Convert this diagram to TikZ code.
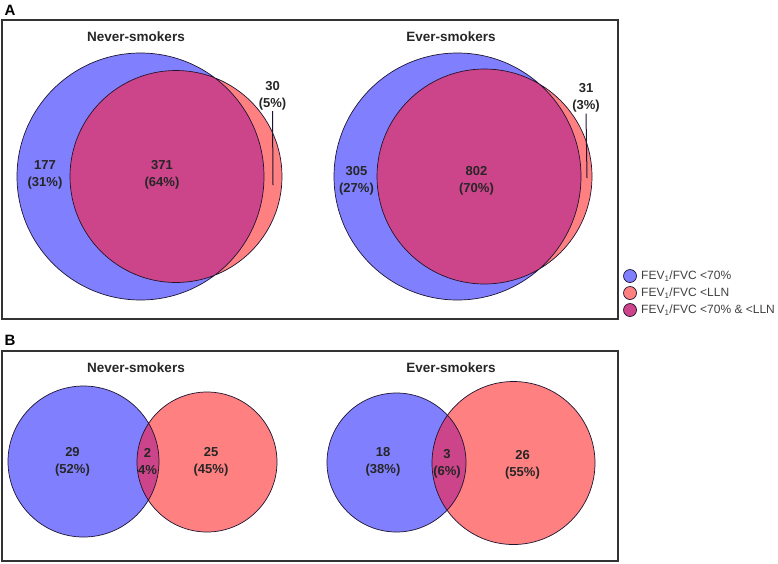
\documentclass[tikz,border=0pt]{standalone}
\usepackage{fontspec}
\setmainfont{Liberation Sans}
\definecolor{setblue}{RGB}{128,128,255}
\definecolor{setred}{RGB}{255,128,128}
\definecolor{setmag}{RGB}{204,68,138}
\definecolor{edgecol}{RGB}{30,20,50}

\begin{document}
\begin{tikzpicture}[x=1pt,y=-1pt,
    venn/.style={circle,inner sep=0pt},
    rim/.style={draw=edgecol,line width=0.7pt},
    count/.style={font=\fontsize{13}{17}\selectfont\bfseries,align=center,text=black!85,inner sep=1pt},
    title/.style={font=\fontsize{13.5}{16}\selectfont\bfseries,text=black!85},
    panel/.style={draw=black!80,line width=1.3pt},
    key/.style={circle,draw=edgecol,line width=0.7pt,inner sep=0pt,minimum size=13pt},
    keytext/.style={font=\fontsize{12}{14}\selectfont,anchor=west,text=black!75,inner sep=0pt}]
  \useasboundingbox (0,0) rectangle (778,563);
  % panel frames and letters
  \draw[panel] (2,20) rectangle (618,319);
  \draw[panel] (2,351) rectangle (618,561);
  \node[font=\fontsize{15}{15}\selectfont\bfseries] (letA) at (10,10) {A};
  \node[font=\fontsize{15}{15}\selectfont\bfseries] (letB) at (10,340) {B};
  % A: never-smokers
  \node[title] (titNevA) at (136,37) {Never-smokers};
  \node[venn,fill=setblue,minimum size=247pt] (nevA70) at (140.5,176.5) {};
  \node[venn,fill=setred,minimum size=212pt] (nevALLN) at (176,176.5) {};
  \begin{scope}
    \clip (nevA70.center) circle (123.5pt);
    \fill[setmag] (nevALLN.center) circle (106pt);
  \end{scope}
  \draw[rim] (nevA70.center) circle (123.5pt) (nevALLN.center) circle (106pt);
  \node[count] (nevAleft) at (45,175) {177\\(31\%)};
  \node[count] (nevAboth) at (162,175) {371\\(64\%)};
  \node[count] (nevAonly) at (272.5,95.5) {30\\(5\%)};
  \coordinate (nevAtip) at (273,185);
  \draw[edgecol,line width=1pt] (nevAonly.south) -- (nevAtip);
  % A: ever-smokers
  \node[title] (titEvA) at (451,37) {Ever-smokers};
  \node[venn,fill=setblue,minimum size=247pt] (evA70) at (457.5,176.5) {};
  \node[venn,fill=setred,minimum size=215pt] (evALLN) at (484.5,176.5) {};
  \begin{scope}
    \clip (evA70.center) circle (123.5pt);
    \fill[setmag] (evALLN.center) circle (107.5pt);
  \end{scope}
  \draw[rim] (evA70.center) circle (123.5pt) (evALLN.center) circle (107.5pt);
  \node[count] (evAleft) at (356.5,181) {305\\(27\%)};
  \node[count] (evAboth) at (476.5,180.5) {802\\(70\%)};
  \node[count] (evAonly) at (586,98) {31\\(3\%)};
  \coordinate (evAtip) at (587,178);
  \draw[edgecol,line width=1pt] (evAonly.south) -- (evAtip);
  % legend
  \node[key,fill=setblue] (key70) at (630,276) {};
  \node[key,fill=setred] (keyLLN) at (630,293) {};
  \node[key,fill=setmag] (keyboth) at (630,310) {};
  \node[keytext] (txt70) at (641,276) {FEV\textsubscript{1}/FVC <70\%};
  \node[keytext] (txtLLN) at (641,293) {FEV\textsubscript{1}/FVC <LLN};
  \node[keytext] (txtboth) at (641,310) {FEV\textsubscript{1}/FVC <70\% \& <LLN};
  % B: never-smokers
  \node[title] (titNevB) at (136,368) {Never-smokers};
  \node[venn,fill=setblue,minimum size=151pt] (nevB70) at (83.5,461.5) {};
  \node[venn,fill=setred,minimum size=140pt] (nevBLLN) at (207,462) {};
  \begin{scope}
    \clip (nevB70.center) circle (75.5pt);
    \fill[setmag] (nevBLLN.center) circle (70pt);
  \end{scope}
  \draw[rim] (nevB70.center) circle (75.5pt) (nevBLLN.center) circle (70pt);
  \node[count] (nevBleft) at (72.5,462) {29\\(52\%)};
  \node[count] (nevBboth) at (147.5,462) {2\\4\%};
  \node[count] (nevBright) at (211,462) {25\\(45\%)};
  % B: ever-smokers
  \node[title] (titEvB) at (451,368) {Ever-smokers};
  \node[venn,fill=setblue,minimum size=139pt] (evB70) at (396.5,462.5) {};
  \node[venn,fill=setred,minimum size=163pt] (evBLLN) at (513.5,463) {};
  \begin{scope}
    \clip (evB70.center) circle (69.5pt);
    \fill[setmag] (evBLLN.center) circle (81.5pt);
  \end{scope}
  \draw[rim] (evB70.center) circle (69.5pt) (evBLLN.center) circle (81.5pt);
  \node[count] (evBleft) at (383,462) {18\\(38\%)};
  \node[count] (evBboth) at (447,463.5) {3\\(6\%)};
  \node[count] (evBright) at (522.5,465) {26\\(55\%)};
\end{tikzpicture}
\end{document}
